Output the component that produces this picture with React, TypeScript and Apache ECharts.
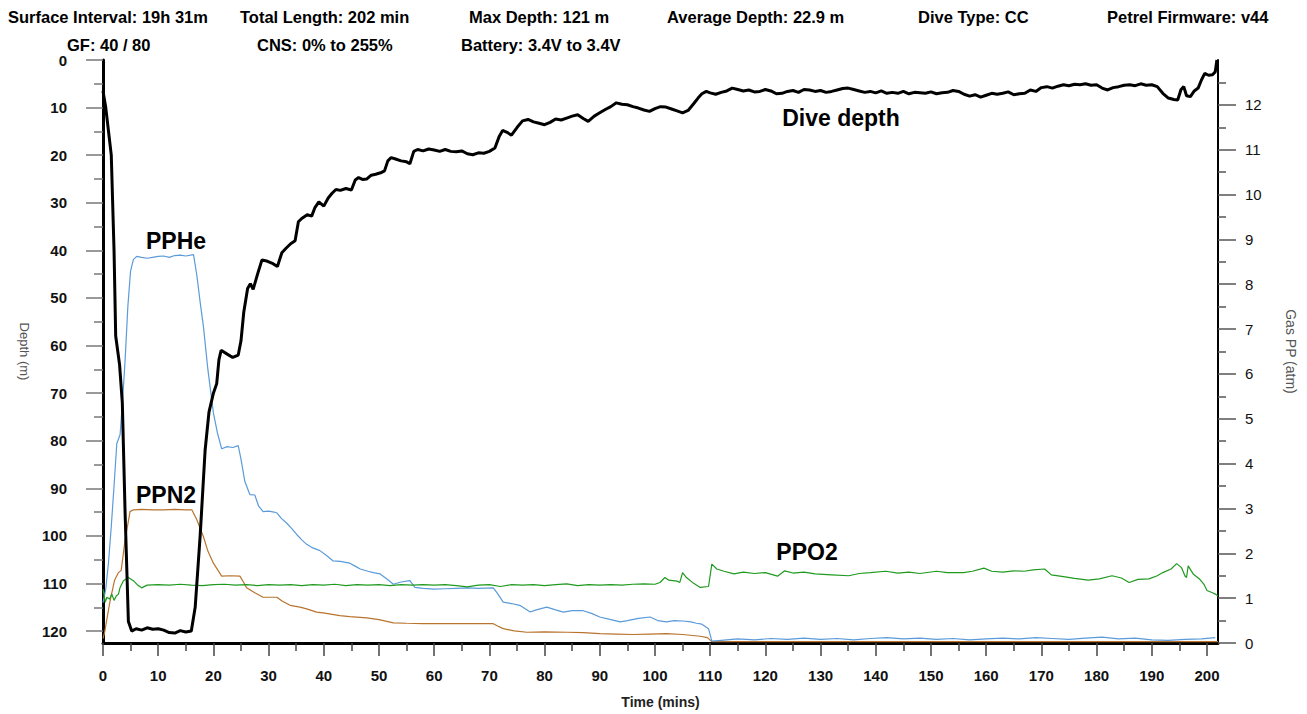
import React, { useEffect, useRef } from "react";
import * as echarts from "echarts";

// ---------- Data ----------
const depthTime = [0, 0.5, 1, 1.5, 2, 2.3, 3, 3.5, 4, 4.6, 5.2, 6, 7, 8, 9, 10, 11, 12, 13, 14, 15, 16, 16.7, 17.6, 18.5, 19.2, 20, 20.6, 21, 21.4, 22.5, 23.5, 24.5, 25, 25.5, 26.2, 26.7, 27.2, 28, 28.8, 29.8, 30.8, 31.6, 32.4, 33.2, 34, 34.8, 35.4, 36, 37, 37.8, 38.4, 39.1, 40, 40.8, 41.5, 42.2, 43, 44, 45, 45.7, 46.3, 47, 47.8, 48.6, 49.4, 50.3, 51, 51.6, 52.2, 53, 54, 55, 55.6, 56.3, 57, 58, 59, 60, 61, 62, 63, 64, 65, 66, 67, 68, 69, 70, 71, 71.8, 72.4, 73.2, 74, 75, 76, 77, 78, 79, 80, 81, 82, 83, 84, 85, 86, 87, 87.9, 89, 90, 91, 92, 93, 94, 95, 96, 97, 98, 99, 100, 101, 102, 103, 104, 105, 106, 107, 107.8, 108.5, 109.3, 110, 111, 112, 113, 114, 115, 116, 117, 118, 119, 120, 121, 122, 123, 124, 125, 126, 127, 128, 129, 130, 131, 132, 133, 134, 135, 136, 137, 138, 139, 140, 141, 142, 143, 144, 145, 146, 147, 148, 149, 150, 151, 152, 153, 154, 155, 156, 157, 158, 159, 160, 161, 162, 163, 164, 165, 166, 167, 168, 169, 170, 171, 172, 173, 174, 175, 176, 177, 178, 179, 180, 181, 182, 183, 184, 185, 186, 187, 188, 189, 190, 191, 192, 193, 194, 194.7, 195.3, 195.8, 196.3, 197, 197.7, 198.4, 199, 199.6, 200.3, 201, 201.5, 201.8];
const depthVal = [6.5, 10, 15, 20, 40, 58, 64, 72, 95, 118, 120, 119.5, 119.8, 119.3, 119.6, 119.5, 119.8, 120.3, 120.4, 119.9, 120.2, 120.0, 115, 100, 82, 74, 70, 68, 63, 61, 61.8, 62.5, 62, 59, 53, 48, 47, 48.2, 45, 42, 42.3, 42.8, 43.4, 40.5, 39.5, 38.6, 38, 34, 33.3, 32.5, 32.8, 31, 29.8, 30.7, 29, 28, 27.2, 27.4, 27, 27.3, 25.2, 24.7, 25.1, 25, 24.2, 24, 23.7, 23.3, 21.2, 20.5, 20.8, 21.2, 21.4, 21.8, 19.2, 18.8, 19.1, 18.7, 18.9, 19.2, 18.8, 19.2, 19.3, 19.1, 19.7, 19.9, 19.5, 19.6, 19.2, 18.5, 16, 14.8, 15.2, 15.8, 14.2, 12.8, 12.5, 13, 13.3, 13.6, 13.1, 12.4, 12.6, 12.2, 11.8, 11.5, 12.3, 12.9, 11.8, 11.1, 10.4, 9.8, 9.0, 9.3, 9.4, 9.8, 10.1, 10.5, 10.8, 10.2, 9.8, 9.9, 10.3, 10.7, 11.1, 10.6, 9.2, 8.0, 7.1, 6.6, 6.9, 7.2, 6.8, 6.5, 5.9, 6.2, 6.5, 6.3, 6.7, 6.6, 6.2, 6.5, 7.1, 7.0, 6.6, 6.4, 6.8, 6.2, 6.3, 6.6, 6.4, 6.8, 6.6, 6.3, 6.0, 5.9, 6.2, 6.5, 6.8, 6.6, 6.9, 6.5, 7.0, 6.8, 7.0, 6.6, 7.1, 6.8, 6.9, 7.0, 6.7, 7.1, 6.9, 6.8, 6.4, 6.6, 7.2, 7.6, 7.3, 7.8, 7.4, 7.0, 7.2, 7.0, 6.7, 7.3, 7.1, 7.0, 6.3, 6.6, 5.8, 5.6, 5.9, 5.5, 5.2, 5.4, 5.1, 5.2, 5.0, 5.3, 5.2, 5.9, 6.3, 5.8, 5.6, 5.3, 5.2, 5.4, 5.0, 5.3, 5.2, 5.6, 7.0, 8.0, 8.3, 8.4, 6.2, 5.6, 7.5, 7.7, 6.5, 5.9, 4.2, 2.8, 3.2, 3.1, 2.5, 0];

const heTime = [0, 0.5, 1, 1.5, 2, 2.5, 3.1, 3.6, 4, 4.5, 5, 5.5, 6.1, 7, 8, 9, 10, 11, 12, 13, 14, 15, 16.4, 17, 17.6, 18.2, 19, 20, 20.7, 21.5, 22.5, 23.5, 24.5, 25, 25.7, 26.6, 27.5, 28.2, 29, 30, 31, 31.5, 32.3, 33.3, 34.2, 35.1, 36, 36.9, 38, 39.3, 40.5, 41.7, 43, 44.7, 45.6, 46.6, 48, 49, 50.2, 51.5, 52.6, 54, 55.6, 56.5, 58, 60, 62, 64, 66, 68, 70.7, 71.5, 72.5, 74, 75.5, 77.4, 78.5, 80.4, 82, 83.4, 85, 87, 88.5, 90, 92, 93.7, 95, 97, 99.1, 100.5, 102.1, 103.5, 105.1, 106.5, 107.5, 108.5, 109.7, 110.3, 112, 115, 118, 121, 124, 127, 130, 133, 136, 139, 142, 145, 148, 151, 154, 157, 160, 163, 166, 169, 172, 175, 178, 181, 184, 187, 190, 193, 196, 199, 201.5];
const heVal = [0.9, 1.2, 1.8, 2.6, 3.5, 4.45, 4.65, 5.5, 6.3, 7.5, 8.3, 8.55, 8.62, 8.6, 8.58, 8.6, 8.62, 8.63, 8.6, 8.64, 8.65, 8.63, 8.66, 8.2, 7.6, 7.05, 6.1, 5.13, 4.7, 4.33, 4.38, 4.36, 4.4, 4.1, 3.6, 3.31, 3.3, 3.05, 2.93, 2.94, 2.92, 2.9, 2.78, 2.67, 2.55, 2.42, 2.3, 2.2, 2.12, 2.06, 1.95, 1.83, 1.82, 1.78, 1.72, 1.65, 1.6, 1.57, 1.54, 1.42, 1.31, 1.36, 1.39, 1.24, 1.22, 1.2, 1.21, 1.22, 1.23, 1.22, 1.23, 1.1, 0.91, 0.88, 0.84, 0.69, 0.74, 0.8, 0.74, 0.69, 0.72, 0.72, 0.66, 0.58, 0.52, 0.47, 0.5, 0.55, 0.58, 0.5, 0.47, 0.5, 0.49, 0.47, 0.44, 0.42, 0.32, 0.04, 0.06, 0.09, 0.07, 0.1, 0.08, 0.11, 0.08, 0.1, 0.07, 0.1, 0.12, 0.09, 0.11, 0.08, 0.1, 0.07, 0.09, 0.11, 0.09, 0.12, 0.1, 0.08, 0.11, 0.13, 0.09, 0.11, 0.07, 0.06, 0.08, 0.09, 0.12];

const n2Time = [0, 0.3, 0.8, 1.3, 2.1, 2.8, 3.3, 4, 4.9, 5.5, 7, 9, 11, 13, 15, 16.1, 17, 18.2, 19, 20, 21.5, 23, 24.8, 25.5, 26, 27.5, 29, 31.5, 32.5, 33.9, 35.7, 36.9, 38.7, 39.9, 42.9, 44.7, 47.8, 50, 52.6, 55, 58, 61, 65, 70.7, 71.5, 72.5, 74.5, 76.8, 80, 84, 87, 90, 93, 96.1, 99, 102.1, 105, 108.2, 109.5, 110.3, 120, 140, 160, 180, 202];
const n2Val = [0.1, 0.24, 0.6, 0.95, 1.4, 1.57, 1.62, 2.3, 2.93, 2.97, 2.98, 2.97, 2.97, 2.98, 2.97, 2.97, 2.75, 2.37, 2.05, 1.78, 1.49, 1.5, 1.49, 1.35, 1.23, 1.12, 1.02, 1.02, 0.93, 0.84, 0.8, 0.76, 0.69, 0.67, 0.61, 0.59, 0.56, 0.52, 0.45, 0.44, 0.43, 0.43, 0.43, 0.43, 0.38, 0.32, 0.27, 0.24, 0.25, 0.24, 0.23, 0.21, 0.2, 0.19, 0.2, 0.21, 0.19, 0.15, 0.12, 0.03, 0.03, 0.03, 0.03, 0.03, 0.03];

const o2Time = [0, 0.4, 0.7, 1.2, 1.6, 2, 2.4, 2.8, 3.1, 3.7, 4.6, 5.5, 6.2, 7, 8, 10, 12, 14, 16, 18, 20, 22, 24, 26, 28, 30, 32, 34, 36, 38, 40, 42, 44, 46, 48, 50, 52, 54, 56, 58, 60, 62, 64, 66, 68, 70, 72, 74, 76, 78, 80, 82, 84, 86, 88, 90, 92, 94, 96, 98, 100, 100.9, 101.8, 102.5, 104, 104.5, 105, 105.7, 107, 108.2, 109.7, 110.3, 111.2, 112.5, 114.3, 116, 118, 120, 122.2, 123.5, 125, 127, 129, 132, 135.1, 137, 139, 141.8, 144, 146, 148, 151, 153, 155.9, 157.5, 159.6, 161, 163, 165, 166.9, 168.5, 170.6, 171.8, 174, 176, 178.5, 180.5, 182.8, 184.5, 185.9, 187.5, 189.5, 191, 192, 193.5, 194.5, 195.4, 196, 196.3, 196.6, 197.5, 198.7, 199.5, 200, 201, 201.5, 202];
const o2Val = [1.2, 0.91, 1.02, 0.98, 1.09, 0.95, 1.05, 1.09, 1.24, 1.39, 1.46, 1.39, 1.3, 1.23, 1.29, 1.3, 1.29, 1.31, 1.29, 1.28, 1.3, 1.31, 1.29, 1.3, 1.28, 1.3, 1.29, 1.3, 1.28, 1.3, 1.29, 1.31, 1.28, 1.3, 1.29, 1.3, 1.28, 1.3, 1.29, 1.3, 1.29, 1.3, 1.28, 1.25, 1.29, 1.3, 1.26, 1.3, 1.29, 1.3, 1.28, 1.3, 1.32, 1.28, 1.3, 1.29, 1.3, 1.29, 1.31, 1.32, 1.31, 1.35, 1.46, 1.4, 1.38, 1.35, 1.57, 1.46, 1.33, 1.24, 1.26, 1.76, 1.65, 1.6, 1.54, 1.58, 1.55, 1.57, 1.49, 1.61, 1.56, 1.58, 1.54, 1.52, 1.5, 1.55, 1.57, 1.6, 1.56, 1.58, 1.55, 1.6, 1.57, 1.57, 1.6, 1.67, 1.6, 1.58, 1.61, 1.6, 1.63, 1.65, 1.52, 1.48, 1.44, 1.4, 1.43, 1.5, 1.45, 1.35, 1.42, 1.43, 1.5, 1.57, 1.65, 1.77, 1.68, 1.5, 1.46, 1.72, 1.54, 1.42, 1.3, 1.17, 1.12, 1.09, 1.05];

const depthMajorTicks = [0, 10, 20, 30, 40, 50, 60, 70, 80, 90, 100, 110, 120];
const depthMinorTicks = [5, 15, 25, 35, 45, 55, 65, 75, 85, 95, 105, 115];
const gasMajorTicks = [0, 1, 2, 3, 4, 5, 6, 7, 8, 9, 10, 11, 12];
const gasMinorTicks = [0.5, 1.5, 2.5, 3.5, 4.5, 5.5, 6.5, 7.5, 8.5, 9.5, 10.5, 11.5, 12.5];
const timeMajorTicks = [0, 10, 20, 30, 40, 50, 60, 70, 80, 90, 100, 110, 120, 130, 140, 150, 160, 170, 180, 190, 200];
const timeMinorTicks = [5, 15, 25, 35, 45, 55, 65, 75, 85, 95, 105, 115, 125, 135, 145, 155, 165, 175, 185, 195];

const headerRow1 = [
  { text: "Surface Interval: 19h 31m", x: 8 },
  { text: "Total Length: 202 min", x: 240 },
  { text: "Max Depth: 121 m", x: 469 },
  { text: "Average Depth: 22.9 m", x: 667 },
  { text: "Dive Type: CC", x: 918 },
  { text: "Petrel Firmware: v44", x: 1107 },
];
const headerRow2 = [
  { text: "GF: 40 / 80", x: 67 },
  { text: "CNS: 0% to 255%", x: 257 },
  { text: "Battery: 3.4V to 3.4V", x: 461 },
];
const annotations = [
  { text: "Dive depth", x: 841, y: 118 },
  { text: "PPHe", x: 176, y: 241 },
  { text: "PPN2", x: 166, y: 495 },
  { text: "PPO2", x: 807, y: 552 },
];

const FONT = '"Liberation Sans", Arial, Helvetica, sans-serif';

const pairs = (t: number[], v: number[]) => t.map((x, i) => [x, v[i]]);

export default function App() {
  const ref = useRef<HTMLDivElement>(null);
  useEffect(() => {
    if (!ref.current) return;
    const chart = echarts.init(ref.current, undefined, { renderer: "svg" });
    const graphics: any[] = [];
    headerRow1.forEach((h) =>
      graphics.push({
        type: "text",
        x: h.x,
        y: 17,
        style: { text: h.text, fill: "#000", fontSize: 16.5, fontWeight: "bold", fontFamily: FONT, align: "left", verticalAlign: "middle" },
      })
    );
    headerRow2.forEach((h) =>
      graphics.push({
        type: "text",
        x: h.x,
        y: 45,
        style: { text: h.text, fill: "#000", fontSize: 16.5, fontWeight: "bold", fontFamily: FONT, align: "left", verticalAlign: "middle" },
      })
    );
    annotations.forEach((a) =>
      graphics.push({
        type: "text",
        x: a.x,
        y: a.y,
        z: 100,
        style: { text: a.text, fill: "#000", fontSize: 23, fontWeight: "bold", fontFamily: FONT, align: "center", verticalAlign: "middle" },
      })
    );

    const option: any = {
      animation: false,
      backgroundColor: "#ffffff",
      grid: { left: 103, right: 89, top: 60, bottom: 67, containLabel: false },
      graphic: graphics,
      xAxis: [
        {
          type: "value",
          min: 0,
          max: 202,
          interval: 10,
          name: "Time (mins)",
          nameLocation: "middle",
          nameGap: 52,
          nameTextStyle: { color: "#222", fontSize: 14, fontWeight: "bold", fontFamily: FONT },
          axisLine: { show: true, onZero: false, lineStyle: { color: "#000", width: 3 } },
          axisTick: { show: true, length: 13, customValues: timeMajorTicks, lineStyle: { color: "#444", width: 1.5 } },
          axisLabel: { show: true, margin: 25, customValues: timeMajorTicks, color: "#111", fontSize: 15, fontWeight: "bold", fontFamily: FONT },
          splitLine: { show: false },
        },
        {
          type: "value",
          min: 0,
          max: 202,
          position: "bottom",
          axisLine: { show: false, onZero: false },
          axisTick: { show: true, length: 8, customValues: timeMinorTicks, lineStyle: { color: "#444", width: 1.5 } },
          axisLabel: { show: false },
          splitLine: { show: false },
        },
      ],
      yAxis: [
        {
          type: "value",
          position: "left",
          inverse: true,
          min: 0,
          max: 122.5,
          interval: 10,
          name: "Depth (m)",
          nameLocation: "middle",
          nameRotate: -90,
          nameGap: 72,
          nameTextStyle: { color: "#555", fontSize: 13, fontFamily: FONT },
          axisLine: { show: true, onZero: false, lineStyle: { color: "#000", width: 3 } },
          axisTick: { show: true, length: 17, customValues: depthMajorTicks, lineStyle: { color: "#777", width: 1.5 } },
          axisLabel: { show: true, margin: 36, customValues: depthMajorTicks, color: "#111", fontSize: 15, fontWeight: "bold", fontFamily: FONT },
          splitLine: { show: false },
        },
        {
          type: "value",
          position: "right",
          min: 0,
          max: 13,
          interval: 1,
          name: "Gas PP (atm)",
          nameLocation: "middle",
          nameRotate: -90,
          nameGap: 66,
          nameTextStyle: { color: "#555", fontSize: 14, fontFamily: FONT },
          axisLine: { show: true, onZero: false, lineStyle: { color: "#000", width: 2 } },
          axisTick: { show: true, length: 18, customValues: gasMajorTicks, lineStyle: { color: "#555", width: 1.5 } },
          axisLabel: { show: true, margin: 27, customValues: gasMajorTicks, color: "#111", fontSize: 15, fontFamily: FONT },
          splitLine: { show: false },
        },
        {
          type: "value",
          position: "left",
          inverse: true,
          min: 0,
          max: 122.5,
          axisLine: { show: false, onZero: false },
          axisTick: { show: true, length: 9, customValues: depthMinorTicks, lineStyle: { color: "#777", width: 1.5 } },
          axisLabel: { show: false },
          splitLine: { show: false },
        },
        {
          type: "value",
          position: "right",
          min: 0,
          max: 13,
          axisLine: { show: false, onZero: false },
          axisTick: { show: true, length: 8, customValues: gasMinorTicks, lineStyle: { color: "#555", width: 1.5 } },
          axisLabel: { show: false },
          splitLine: { show: false },
        },
      ],
      series: [
        {
          name: "PPN2",
          type: "line",
          yAxisIndex: 1,
          showSymbol: false,
          data: pairs(n2Time, n2Val),
          lineStyle: { color: "#b8732e", width: 1.2 },
          z: 3,
        },
        {
          name: "PPHe",
          type: "line",
          yAxisIndex: 1,
          showSymbol: false,
          data: pairs(heTime, heVal),
          lineStyle: { color: "#5b9bd9", width: 1.2 },
          z: 4,
        },
        {
          name: "PPO2",
          type: "line",
          yAxisIndex: 1,
          showSymbol: false,
          data: pairs(o2Time, o2Val),
          lineStyle: { color: "#1f9a1f", width: 1.2 },
          z: 5,
        },
        {
          name: "Dive depth",
          type: "line",
          yAxisIndex: 0,
          showSymbol: false,
          data: pairs(depthTime, depthVal),
          lineStyle: { color: "#000", width: 3 },
          z: 6,
        },
      ],
    };
    chart.setOption(option);
    return () => chart.dispose();
  }, []);
  return (
    <div
      ref={ref}
      style={{ position: "fixed", left: 0, top: 0, width: 1307, height: 714, background: "#fff" }}
    />
  );
}
